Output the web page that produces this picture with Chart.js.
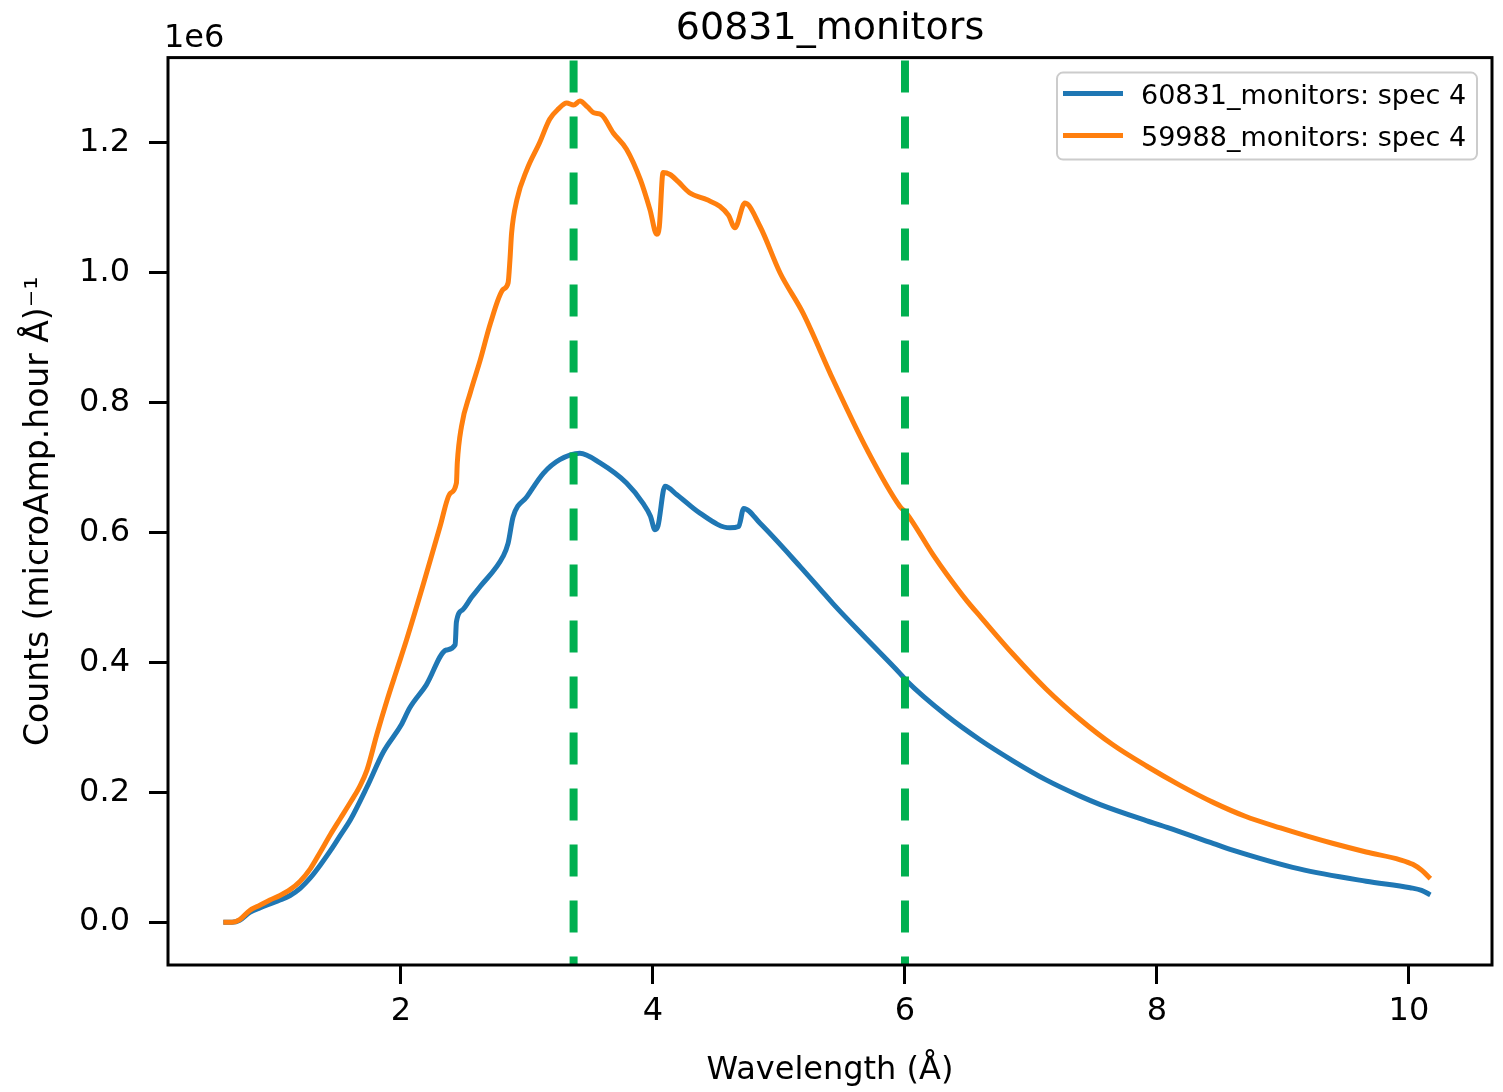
<!DOCTYPE html>
<html>
<head>
<meta charset="utf-8">
<script src="https://cdn.jsdelivr.net/npm/chart.js@4.4.0/dist/chart.umd.min.js"></script>
<style>
  html, body { margin: 0; padding: 0; background: #fff; }
  canvas { display: block; }
</style>
</head>
<body>
<canvas id="monitorChart" width="1503" height="1092"></canvas>
<script>
// values, y in units of 1e6
var chartTitle = "60831_monitors";
var seriesLabels = ["60831_monitors: spec 4", "59988_monitors: spec 4"];
var seriesColors = ["#1f77b4", "#ff7f0e"];

var blueX = [0.59, 0.66, 0.72, 0.80, 0.88, 0.96, 1.04, 1.12, 1.20, 1.28, 1.36, 1.44, 1.52, 1.60,
  1.73, 1.86, 2.00, 2.07, 2.20, 2.36, 2.43, 2.44, 2.49, 2.56, 2.63, 2.81, 2.85, 2.89, 3.00,
  3.13, 3.26, 3.42, 3.58, 3.79, 3.92, 3.98, 4.016, 4.04, 4.095, 4.19, 4.37, 4.61, 4.68, 4.72,
  4.85, 5.17, 5.33, 5.43, 5.70, 5.96, 6.01, 6.33, 6.60, 6.86, 7.12, 7.39, 7.55, 7.92, 8.08,
  8.45, 8.60, 9.13, 9.66, 10.01, 10.10, 10.17];
var blueY = [0.000, 0.000, 0.003, 0.015, 0.022, 0.028, 0.034, 0.041, 0.052, 0.068, 0.088, 0.110, 0.134, 0.158,
  0.208, 0.262, 0.303, 0.330, 0.365, 0.419, 0.427, 0.462, 0.481, 0.500, 0.517, 0.563, 0.583, 0.624, 0.655,
  0.691, 0.712, 0.722, 0.707, 0.676, 0.645, 0.625, 0.604, 0.610, 0.671, 0.658, 0.630, 0.607, 0.609, 0.637,
  0.614, 0.547, 0.512, 0.490, 0.435, 0.383, 0.372, 0.318, 0.280, 0.248, 0.219, 0.194, 0.181, 0.156, 0.146,
  0.121, 0.111, 0.082, 0.063, 0.053, 0.049, 0.042];

var orangeX = [0.59, 0.66, 0.72, 0.80, 0.88, 0.96, 1.04, 1.12, 1.20, 1.28, 1.36, 1.44, 1.52, 1.60,
  1.67, 1.73, 1.81, 1.89, 1.97, 2.045, 2.18, 2.31, 2.39, 2.44, 2.447, 2.48, 2.55, 2.63, 2.71,
  2.81, 2.85, 2.865, 2.878, 2.92, 3.00, 3.10, 3.18, 3.25, 3.315, 3.37, 3.42, 3.48, 3.53, 3.59,
  3.685, 3.79, 3.90, 3.976, 4.03, 4.05, 4.08, 4.135, 4.20, 4.29, 4.43, 4.53, 4.60, 4.65, 4.73,
  4.85, 5.01, 5.19, 5.43, 5.70, 5.96, 6.01, 6.225, 6.33, 6.49, 6.60, 6.86, 7.12, 7.39, 7.65,
  7.92, 8.18, 8.45, 8.70, 8.98, 9.20, 9.40, 9.66, 9.93, 10.03, 10.10, 10.17];
var orangeY = [0.000, 0.000, 0.004, 0.018, 0.026, 0.034, 0.041, 0.050, 0.063, 0.082, 0.108, 0.135, 0.160, 0.185,
  0.208, 0.234, 0.290, 0.342, 0.390, 0.435, 0.522, 0.609, 0.660, 0.676, 0.707, 0.763, 0.815, 0.866, 0.922,
  0.974, 0.984, 1.020, 1.061, 1.112, 1.159, 1.200, 1.236, 1.252, 1.261, 1.258, 1.264, 1.255, 1.246, 1.243,
  1.215, 1.190, 1.143, 1.097, 1.059, 1.070, 1.154, 1.151, 1.140, 1.123, 1.112, 1.102, 1.088, 1.069, 1.107,
  1.071, 0.999, 0.938, 0.835, 0.727, 0.640, 0.630, 0.565, 0.536, 0.495, 0.470, 0.412, 0.359, 0.312, 0.273,
  0.240, 0.211, 0.184, 0.163, 0.145, 0.132, 0.121, 0.108, 0.096, 0.089, 0.080, 0.067];

var markerX = [3.37, 6.0];
var xTicks = [2, 4, 6, 8, 10];
var yTicks = [0.0, 0.2, 0.4, 0.6, 0.8, 1.0, 1.2];
var xMin = 0.151, xMax = 10.659;
var yMin = -0.066, yMax = 1.331;

function toPoints(xs, ys) {
    return xs.map(function(x, i) { return {x: x, y: ys[i]}; });
}

var datasets = [];
markerX.forEach(function(mx) {
    datasets.push({
        data: [{x: mx, y: yMax}, {x: mx, y: yMin}],
        borderColor: "#00b050",
        borderWidth: 8,
        borderDash: [32, 24],
        borderDashOffset: 53,
        borderCapStyle: "butt",
        pointRadius: 0,
        order: 0
    });
});
datasets.push({
    label: seriesLabels[1],
    data: toPoints(orangeX, orangeY),
    borderColor: seriesColors[1],
    backgroundColor: seriesColors[1],
    borderWidth: 5,
    pointRadius: 0,
    cubicInterpolationMode: "monotone",
    order: 1
});
datasets.push({
    label: seriesLabels[0],
    data: toPoints(blueX, blueY),
    borderColor: seriesColors[0],
    backgroundColor: seriesColors[0],
    borderWidth: 5,
    pointRadius: 0,
    cubicInterpolationMode: "monotone",
    order: 2
});

var font = "'DejaVu Sans', sans-serif";

// frame, offset text and the legend box, matplotlib style
var decorPlugin = {
    id: "decor",
    afterDraw: function(chart) {
        var ctx = chart.ctx;
        var a = chart.chartArea;
        ctx.save();
        ctx.strokeStyle = "#000";
        ctx.lineWidth = 3;
        ctx.strokeRect(a.left, a.top, a.right - a.left, a.bottom - a.top);

        ctx.fillStyle = "#000";
        ctx.font = "32px " + font;
        ctx.textAlign = "left";
        ctx.textBaseline = "alphabetic";
        ctx.fillText("1e6", a.left - 4, a.top - 11);

        var bx = a.right - 435, by = a.top + 15, bw = 420, bh = 87;
        ctx.beginPath();
        ctx.roundRect(bx, by, bw, bh, 6);
        ctx.fillStyle = "rgba(255,255,255,0.8)";
        ctx.fill();
        ctx.strokeStyle = "#cccccc";
        ctx.lineWidth = 2;
        ctx.stroke();

        ctx.font = "27px " + font;
        for (var i = 0; i < seriesLabels.length; i++) {
            var ly = by + 21 + i * 42;
            ctx.strokeStyle = seriesColors[i];
            ctx.lineWidth = 5;
            ctx.beginPath();
            ctx.moveTo(bx + 6, ly);
            ctx.lineTo(bx + 66, ly);
            ctx.stroke();
            ctx.fillStyle = "#000";
            ctx.textBaseline = "middle";
            ctx.fillText(seriesLabels[i], bx + 84, ly + 3);
        }
        ctx.restore();
    }
};

new Chart(document.getElementById("monitorChart").getContext("2d"), {
    type: "line",
    data: { datasets: datasets },
    plugins: [decorPlugin],
    options: {
        responsive: false,
        animation: false,
        devicePixelRatio: 1,
        layout: { padding: { left: 0, right: 11, top: 0, bottom: 0 } },
        plugins: {
            legend: { display: false },
            tooltip: { enabled: false },
            title: {
                display: true,
                text: chartTitle,
                fullSize: false,
                color: "#000",
                font: { family: font, size: 38, weight: "normal" },
                padding: { top: 6, bottom: 6 }
            }
        },
        scales: {
            x: {
                type: "linear",
                min: xMin,
                max: xMax,
                afterBuildTicks: function(scale) {
                    scale.ticks = xTicks.map(function(v) { return {value: v}; });
                },
                afterFit: function(scale) { scale.height = 127; },
                ticks: {
                    color: "#000",
                    font: { family: font, size: 32 },
                    padding: 8,
                    maxRotation: 0,
                    callback: function(value) { return String(value); }
                },
                grid: {
                    drawOnChartArea: false,
                    drawTicks: true,
                    tickLength: 19,
                    tickWidth: 3,
                    tickColor: "#000"
                },
                border: { display: false },
                title: {
                    display: true,
                    text: "Wavelength (Å)",
                    color: "#000",
                    font: { family: font, size: 32 },
                    padding: { top: 0, bottom: 2 }
                }
            },
            y: {
                type: "linear",
                min: yMin,
                max: yMax,
                afterBuildTicks: function(scale) {
                    scale.ticks = yTicks.map(function(v) { return {value: v}; });
                },
                afterFit: function(scale) { scale.width = 168; },
                ticks: {
                    color: "#000",
                    font: { family: font, size: 32 },
                    padding: 19,
                    callback: function(value) { return value.toFixed(1); }
                },
                grid: {
                    drawOnChartArea: false,
                    drawTicks: true,
                    tickLength: 19,
                    tickWidth: 3,
                    tickColor: "#000"
                },
                border: { display: false },
                title: {
                    display: true,
                    text: "Counts (microAmp.hour Å)⁻¹",
                    color: "#000",
                    font: { family: font, size: 33 },
                    padding: { top: 20, bottom: 0 }
                }
            }
        }
    }
});
</script>
</body>
</html>
